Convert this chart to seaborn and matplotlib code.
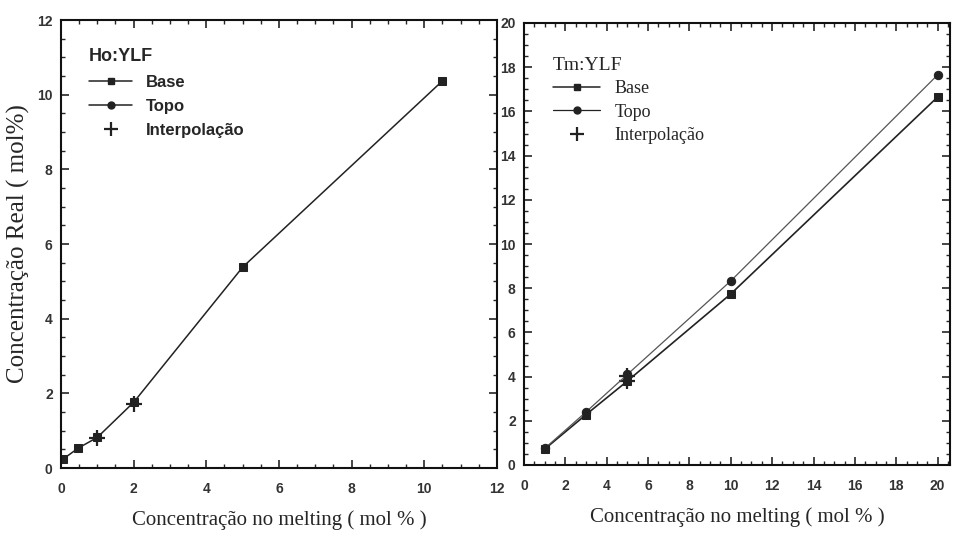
import matplotlib
matplotlib.use("Agg")
import matplotlib.pyplot as plt
import seaborn as sns
import pandas as pd
from matplotlib.lines import Line2D
from matplotlib.ticker import MultipleLocator

# Ho:YLF data
ho_x = [0.06, 0.47, 1.0, 2.0, 5.0, 10.5]
ho_base = [0.24, 0.53, 0.82, 1.76, 5.38, 10.37]
ho_interp_x = [1.0, 2.0]
ho_interp_y = [0.80, 1.72]

# Tm:YLF data
tm_x = [1, 3, 5, 10, 20]
tm_base = [0.72, 2.28, 3.80, 7.74, 16.65]
tm_topo = [0.75, 2.40, 4.10, 8.33, 17.65]
tm_interp_x = [5, 5]
tm_interp_y = [3.80, 4.02]

sns.set_style("ticks")
plt.rcParams['font.family'] = ['Liberation Sans', 'DejaVu Sans']

fig = plt.figure(figsize=(9.54, 5.47), dpi=100)
W, H = 954, 547
axL = fig.add_axes([61 / W, (H - 468) / H, (497 - 61) / W, (468 - 20) / H])
axR = fig.add_axes([524 / W, (H - 465) / H, (950 - 524) / W, (465 - 23) / H])

c = "#222222"
dfL = pd.DataFrame({"x": ho_x, "y": ho_base})
sns.lineplot(data=dfL, x="x", y="y", ax=axL, color=c, lw=1.1, marker="s",
             markersize=6, markeredgecolor=c, sort=False)
sns.scatterplot(x=ho_interp_x, y=ho_interp_y, ax=axL, marker="+", s=130,
                color=c, linewidth=1.6)

dfB = pd.DataFrame({"x": tm_x, "y": tm_base})
dfT = pd.DataFrame({"x": tm_x, "y": tm_topo})
sns.lineplot(data=dfB, x="x", y="y", ax=axR, color=c, lw=1.2, marker="s",
             markersize=6, markeredgecolor=c, sort=False)
sns.lineplot(data=dfT, x="x", y="y", ax=axR, color="#555555", lw=0.9, marker="o",
             markersize=6, markeredgecolor=c, markerfacecolor=c, sort=False)
sns.scatterplot(x=tm_interp_x, y=tm_interp_y, ax=axR, marker="+", s=130,
                color=c, linewidth=1.6)

axL.set_xlim(0, 12)
axL.set_ylim(0, 12)
axR.set_xlim(0, 20.6)
axR.set_ylim(0, 20)

for ax in (axL, axR):
    ax.xaxis.set_major_locator(MultipleLocator(2))
    ax.yaxis.set_major_locator(MultipleLocator(2))
    ax.xaxis.set_minor_locator(MultipleLocator(0.5))
    ax.yaxis.set_minor_locator(MultipleLocator(0.5))
    ax.tick_params(which="major", direction="in", length=6, width=1.2,
                   top=True, right=True, labelsize=10, pad=6, labelcolor="#333333")
    ax.tick_params(axis="x", which="major", pad=10)
    ax.tick_params(which="minor", direction="in", length=3, width=1.0,
                   top=True, right=True)
    for lab in ax.get_xticklabels() + ax.get_yticklabels():
        lab.set_fontweight("bold")
    for s in ax.spines.values():
        s.set_linewidth(1.5)
        s.set_color("#111111")
    ax.set_xlabel("Concentração no melting ( mol % )", family="Liberation Serif",
                  fontsize=15, labelpad=10)
    ax.set_ylabel("")

axL.set_ylabel("Concentração Real ( mol%)", family="Liberation Serif", fontsize=18,
               labelpad=5)

def handles(lw_t):
    return [Line2D([], [], color=c, lw=1.1, marker="s", markersize=5),
            Line2D([], [], color=c, lw=lw_t, marker="o", markersize=5),
            Line2D([], [], color=c, lw=0, marker="+", markersize=10, markeredgewidth=1.6)]

legL = axL.legend(handles(1.1), ["Base", "Topo", "Interpolação"], title="Ho:YLF",
                  loc="upper left", frameon=False, bbox_to_anchor=(0.03, 0.97),
                  prop={"family": "Liberation Sans", "size": 12, "weight": "bold"},
                  handlelength=2.6, labelspacing=0.55, alignment="left")
legL.get_title().set_fontsize(13)
legL.get_title().set_fontweight("bold")

legR = axR.legend(handles(0.9), ["Base", "Topo", "Interpolação"], title="Tm:YLF",
                  loc="upper left", frameon=False, bbox_to_anchor=(0.03, 0.96),
                  prop={"family": "Liberation Serif", "size": 13},
                  handlelength=2.6, labelspacing=0.35, alignment="left")
legR.get_title().set_fontsize(14)
legR.get_title().set_family("Liberation Serif")

fig.savefig("out.png", dpi=100)
